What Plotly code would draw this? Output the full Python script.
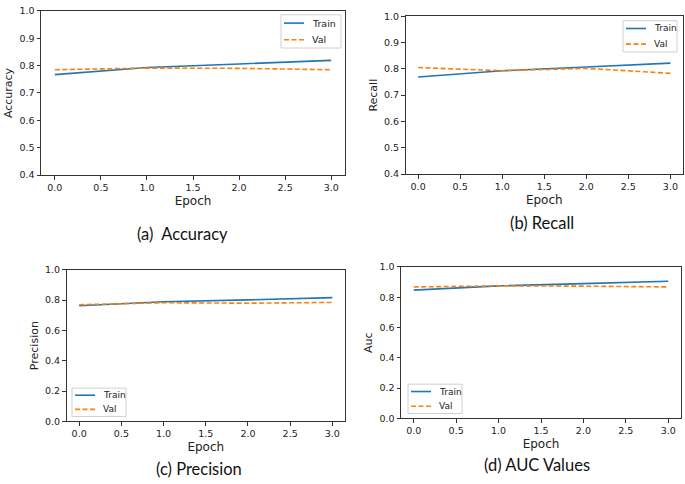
import plotly.graph_objects as go

W, H = 685, 484

epochs = [0, 1, 2, 3]

acc_train = [0.767, 0.793, 0.806, 0.819]
acc_val = [0.785, 0.791, 0.790, 0.785]
rec_train = [0.769, 0.793, 0.807, 0.822]
rec_val = [0.805, 0.793, 0.802, 0.783]
prec_train = [0.763, 0.789, 0.802, 0.817]
prec_val = [0.770, 0.783, 0.780, 0.785]
auc_train = [0.847, 0.875, 0.890, 0.905]
auc_val = [0.868, 0.875, 0.873, 0.868]

y_labels = ["Accuracy", "Recall", "Precision", "Auc"]
captions = ["(a)\u00a0\u00a0Accuracy", "(b) Recall", "(c) Precision", "(d) AUC Values"]
legend_names = ["Train", "Val"]
x_ticks = [0.0, 0.5, 1.0, 1.5, 2.0, 2.5, 3.0]
y_ticks_top = [0.4, 0.5, 0.6, 0.7, 0.8, 0.9, 1.0]
y_ticks_bottom = [0.0, 0.2, 0.4, 0.6, 0.8, 1.0]

BLUE = "#1f77b4"
ORANGE = "#ff7f0e"
TEXT = "#222"
DASH = "5px,2.5px"
TICK_FONT = dict(family="DejaVu Sans", size=9.5, color=TEXT)

# panel boxes in pixels: left, right, top, bottom
boxes = [(41, 345, 5, 173), (405.5, 683, 10.5, 172),
         (66.5, 345, 270, 425), (401, 681, 267, 422)]
# legend boxes in pixels: left, right, top, bottom
legend_boxes = [(281, 341, 9, 43), (623, 677, 15, 47),
                (72, 126, 391, 420), (408, 462, 387, 417)]


def px_x(v):
    return v / W


def px_y(v):
    return 1 - v / H


series = [(acc_train, acc_val), (rec_train, rec_val),
          (prec_train, prec_val), (auc_train, auc_val)]

fig = go.Figure()
layout = {}
shapes = []
annotations = []
for i, ((tr, va), box) in enumerate(zip(series, boxes)):
    n = "" if i == 0 else str(i + 1)
    fig.add_trace(go.Scatter(x=epochs, y=tr, name="Train", mode="lines",
                             line=dict(color=BLUE, width=1.6),
                             xaxis="x" + n, yaxis="y" + n, showlegend=False))
    fig.add_trace(go.Scatter(x=epochs, y=va, name="Val", mode="lines",
                             line=dict(color=ORANGE, width=1.6, dash=DASH),
                             xaxis="x" + n, yaxis="y" + n, showlegend=False))
    l, r, t, b = box
    top_row = i < 2
    axis_common = dict(showline=True, linecolor="#333", linewidth=1, mirror=True,
                       ticks="outside", ticklen=3.5, tickcolor="#333",
                       showgrid=False, zeroline=False, tickfont=TICK_FONT)
    layout["xaxis" + n] = dict(axis_common, domain=[px_x(l), px_x(r)],
                               range=[-0.15, 3.15], anchor="y" + n,
                               tickvals=x_ticks, ticktext=["%.1f" % v for v in x_ticks],
                               title=dict(text="Epoch", standoff=4,
                                          font=dict(family="DejaVu Sans", size=12, color=TEXT)))
    yt = y_ticks_top if top_row else y_ticks_bottom
    layout["yaxis" + n] = dict(axis_common, domain=[px_y(b), px_y(t)],
                               range=[0.4, 1.0] if top_row else [0.0, 1.0],
                               anchor="x" + n,
                               tickvals=yt, ticktext=["%.1f" % v for v in yt],
                               title=dict(text=y_labels[i], standoff=4,
                                          font=dict(family="DejaVu Sans", size=11, color=TEXT)))

    # matplotlib-style legend box
    ll, lr, lt, lb = legend_boxes[i]
    shapes.append(dict(type="rect", xref="paper", yref="paper",
                       x0=px_x(ll), x1=px_x(lr), y0=px_y(lb), y1=px_y(lt),
                       line=dict(color="#d0d0d0", width=1),
                       fillcolor="rgba(255,255,255,0.85)", layer="above"))
    row_h = (lb - lt) / 2
    for k, (name, color, dash) in enumerate(zip(legend_names, [BLUE, ORANGE], ["solid", DASH])):
        yy = lt + row_h * (k + 0.5)
        shapes.append(dict(type="line", xref="paper", yref="paper",
                           x0=px_x(ll + 3), x1=px_x(ll + 23), y0=px_y(yy), y1=px_y(yy),
                           line=dict(color=color, width=1.6, dash=dash), layer="above"))
        annotations.append(dict(text=name, x=px_x(ll + 29), y=px_y(yy),
                                xref="paper", yref="paper", showarrow=False,
                                xanchor="left", yanchor="middle",
                                font=dict(family="DejaVu Sans",
                                          size=9.5 if i == 0 else 9, color=TEXT)))

cap_pos = [(182, 233), (542, 222), (199, 474), (537, 470)]
for text, (cx, cy) in zip(captions, cap_pos):
    annotations.append(dict(text=text, x=px_x(cx), y=px_y(cy), xref="paper", yref="paper",
                            showarrow=False, xanchor="center", yanchor="middle",
                            font=dict(family="Lato", size=16.5, color="#111")))

fig.update_layout(**layout)
fig.update_layout(width=W, height=H, margin=dict(l=0, r=0, t=0, b=0),
                  paper_bgcolor="white", plot_bgcolor="white",
                  shapes=shapes, annotations=annotations)

fig.write_html("out.html", config={"displayModeBar": False},
               post_script="document.body.style.margin='0';")
